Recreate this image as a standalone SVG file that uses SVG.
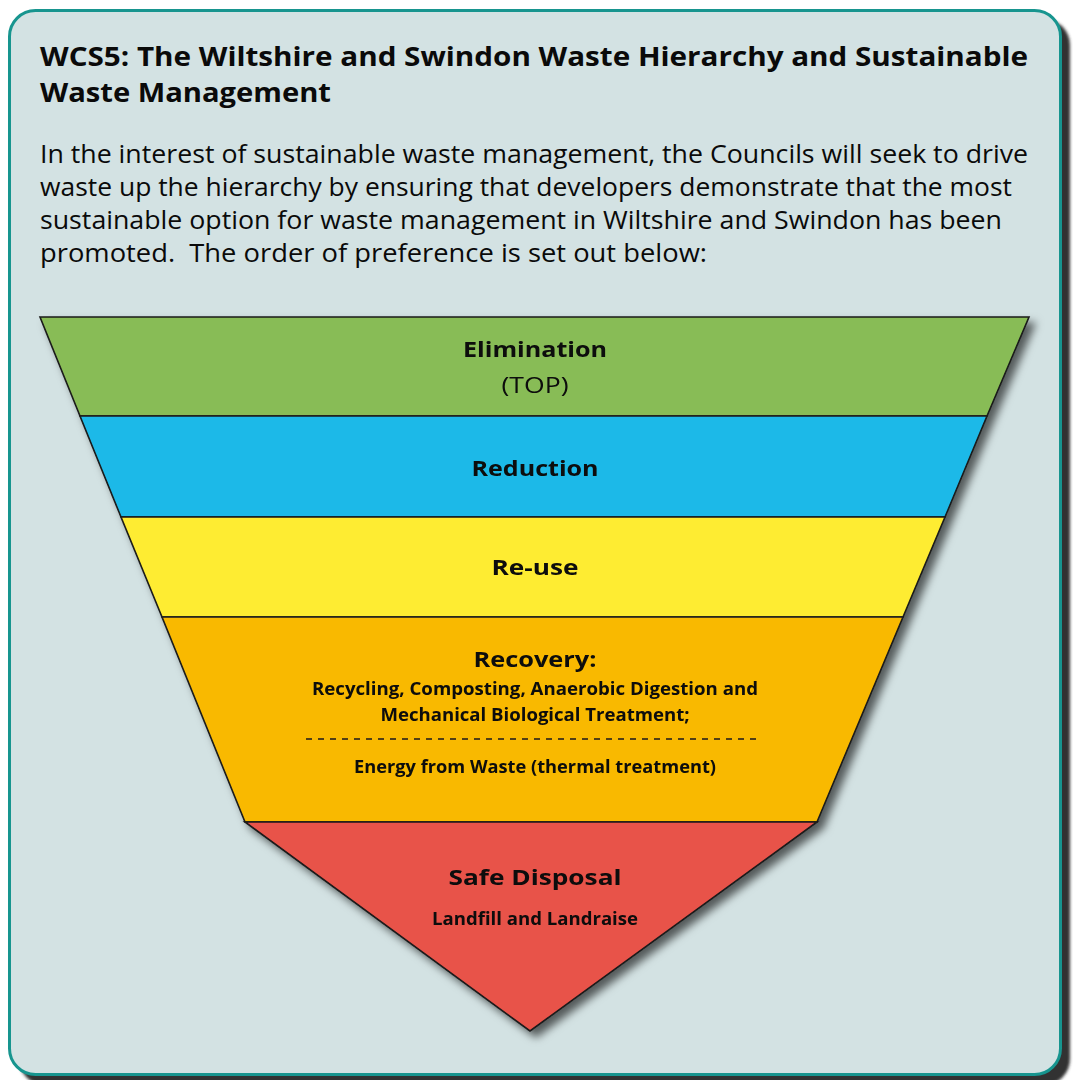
<svg xmlns="http://www.w3.org/2000/svg" width="1073" height="1080" viewBox="0 0 1073 1080">
<defs>
<style>
.t{font-family:"Open Sans","Liberation Sans",sans-serif;fill:#0a0a0a}
.b{font-weight:700}
.lbl{font-family:"Open Sans","Liberation Sans",sans-serif;font-weight:700;fill:#0a0a0a;text-anchor:middle}
.band{stroke:#1a1a1a;stroke-width:1.6;stroke-linejoin:miter}
</style>
<filter id="boxShadow" x="-5%" y="-5%" width="115%" height="115%">
<feGaussianBlur stdDeviation="1.5"/>
</filter>
<filter id="pyrShadow" x="-10%" y="-10%" width="125%" height="125%">
<feDropShadow dx="6" dy="6" stdDeviation="4" flood-color="#000" flood-opacity="0.6"/>
</filter>
</defs>
<rect width="1073" height="1080" fill="#ffffff"/>
<g id="frame">
<rect x="19" y="19" width="1051" height="1066" rx="26" fill="#333333" filter="url(#boxShadow)"/>
<rect x="9.5" y="10.5" width="1051" height="1064" rx="26" fill="#d3e2e3" stroke="#17958f" stroke-width="3"/>
</g>
<g id="heading">
<text class="t b" x="40" y="66" font-size="27" textLength="988" lengthAdjust="spacingAndGlyphs">WCS5: The Wiltshire and Swindon Waste Hierarchy and Sustainable</text>
<text class="t b" x="40" y="102" font-size="27" textLength="291" lengthAdjust="spacingAndGlyphs">Waste Management</text>
</g>
<g id="intro">
<text class="t" x="40" y="163" font-size="26" textLength="988" lengthAdjust="spacingAndGlyphs">In the interest of sustainable waste management, the Councils will seek to drive</text>
<text class="t" x="40" y="196" font-size="26" textLength="972" lengthAdjust="spacingAndGlyphs">waste up the hierarchy by ensuring that developers demonstrate that the most</text>
<text class="t" x="40" y="229" font-size="26" textLength="962" lengthAdjust="spacingAndGlyphs">sustainable option for waste management in Wiltshire and Swindon has been</text>
<text class="t" x="40" y="262" font-size="26" textLength="667" lengthAdjust="spacingAndGlyphs" xml:space="preserve">promoted.  The order of preference is set out below:</text>
</g>
<g id="pyramid" filter="url(#pyrShadow)">
<g id="elimination">
<polygon class="band" points="40,317 1029,317 987,416 80,416" fill="#88bc56"/>
<text class="lbl" x="535" y="357" font-size="22" textLength="144" lengthAdjust="spacingAndGlyphs">Elimination</text>
<text class="lbl" x="535" y="393" font-size="22" style="font-weight:400" textLength="67" lengthAdjust="spacingAndGlyphs">(TOP)</text>
</g>
<g id="reduction">
<polygon class="band" points="80,416 987,416 945,517 121,517" fill="#1cb9e8"/>
<text class="lbl" x="535" y="476" font-size="22" textLength="127" lengthAdjust="spacingAndGlyphs">Reduction</text>
</g>
<g id="reuse">
<polygon class="band" points="121,517 945,517 903,617 162,617" fill="#feec30"/>
<text class="lbl" x="535" y="575" font-size="22" textLength="87" lengthAdjust="spacingAndGlyphs">Re-use</text>
</g>
<g id="recovery">
<polygon class="band" points="162,617 903,617 817,822 245,822" fill="#f9b900"/>
<text class="lbl" x="535" y="667" font-size="22" textLength="123" lengthAdjust="spacingAndGlyphs">Recovery:</text>
<text class="lbl" x="535" y="695" font-size="17" textLength="446" lengthAdjust="spacingAndGlyphs">Recycling, Composting, Anaerobic Digestion and</text>
<text class="lbl" x="535" y="721" font-size="17" textLength="309" lengthAdjust="spacingAndGlyphs">Mechanical Biological Treatment;</text>
<line x1="306" y1="739" x2="762" y2="739" stroke="#1a1a1a" stroke-width="1.3" stroke-dasharray="6,6"/>
<text class="lbl" x="535" y="773" font-size="17" textLength="362" lengthAdjust="spacingAndGlyphs">Energy from Waste (thermal treatment)</text>
</g>
<g id="safe-disposal">
<polygon class="band" points="245,822 817,822 530,1031" fill="#e85249"/>
<text class="lbl" x="535" y="885" font-size="22" textLength="173" lengthAdjust="spacingAndGlyphs">Safe Disposal</text>
<text class="lbl" x="535" y="925" font-size="17" textLength="206" lengthAdjust="spacingAndGlyphs">Landfill and Landraise</text>
</g>
</g>
</svg>
